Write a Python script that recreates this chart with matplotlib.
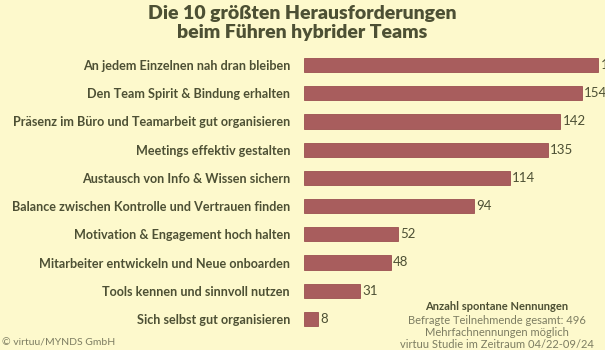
import matplotlib.pyplot as plt

labels = [
    "An jedem Einzelnen nah dran bleiben",
    "Den Team Spirit & Bindung erhalten",
    "Präsenz im Büro und Teamarbeit gut organisieren",
    "Meetings effektiv gestalten",
    "Austausch von Info & Wissen sichern",
    "Balance zwischen Kontrolle und Vertrauen finden",
    "Motivation & Engagement hoch halten",
    "Mitarbeiter entwickeln und Neue onboarden",
    "Tools kennen und sinnvoll nutzen",
    "Sich selbst gut organisieren",
]
values = [163, 154, 142, 135, 114, 94, 52, 48, 31, 8]

note_lines = [
    "Befragte Teilnehmende gesamt: 496",
    "Mehrfachnennungen möglich",
    "virtuu Studie im Zeitraum 04/22-09/24",
]

bg = "#fdf9cc"
bar_color = "#a85d5d"
text_color = "#4d5034"
note_color = "#7d7d62"

plt.rcParams["font.family"] = ["Lato", "DejaVu Sans"]

fig = plt.figure(figsize=(6.05, 3.5), dpi=100, facecolor=bg)
ax = fig.add_axes([304 / 605, 17 / 350, 301 / 605, 282 / 350])
ax.set_facecolor(bg)

pos = list(range(len(values)))
ax.barh(pos, values, height=0.5, color=bar_color, edgecolor="#9a5050", linewidth=0.6)
for p, v in zip(pos, values):
    ax.text(v + 1.2, p, str(v), va="center", ha="left", fontsize=9.5,
            color=text_color, clip_on=False)

ax.set_xlim(0, 301 / 1.805)
ax.set_ylim(len(values) - 0.5, -0.5)
ax.set_yticks(pos)
ax.set_yticklabels(labels, fontsize=9.1, fontweight="bold", color=text_color)
ax.tick_params(axis="y", length=0, pad=10)
ax.set_xticks([])
for s in ax.spines.values():
    s.set_visible(False)

fig.text(0.5, 0.985, "Die 10 größten Herausforderungen\nbeim Führen hybrider Teams",
         ha="center", va="top", fontsize=14, fontweight="heavy",
         color=text_color, linespacing=1.1)

fig.text(497 / 605, 1 - 307 / 350, "Anzahl spontane Nennungen", ha="center",
         va="center", fontsize=8, fontweight="bold", color=text_color)
for i, line in enumerate(note_lines):
    fig.text(497 / 605, 1 - (320 + 12.5 * i) / 350, line, ha="center",
             va="center", fontsize=8, color=note_color)

fig.text(2 / 605, 1 - 343 / 350, "© virtuu/MYNDS GmbH", ha="left",
         va="center", fontsize=7.5, color=note_color)

fig.savefig("out.png", dpi=100, facecolor=bg)
